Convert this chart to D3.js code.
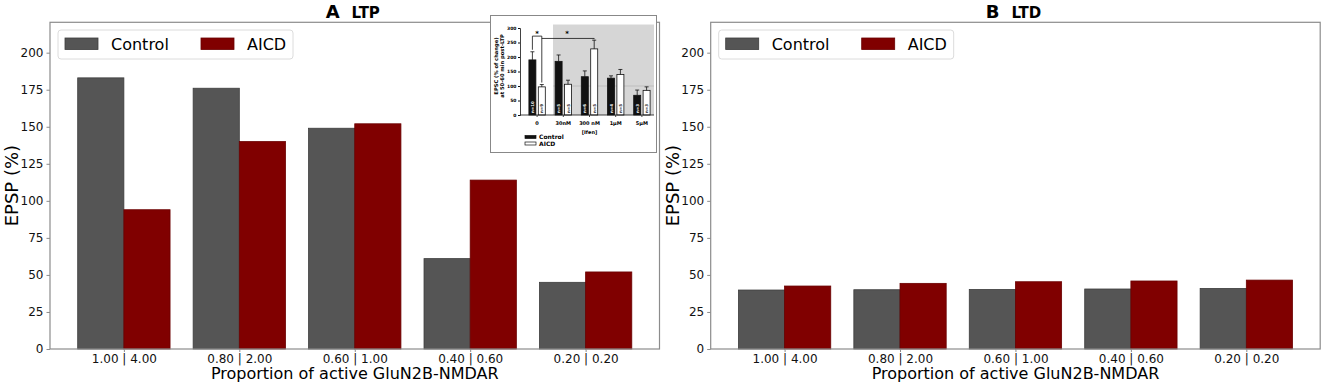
<!DOCTYPE html>
<html>
<head>
<meta charset="utf-8">
<script src="https://cdn.jsdelivr.net/npm/d3@7"></script>
<style>
  body { margin: 0; background: #fff; }
  svg { font-family: "DejaVu Sans", sans-serif; }
</style>
</head>
<body>
<div id="chart"></div>
<script>
// Data
const categories = ['1.00 | 4.00', '0.80 | 2.00', '0.60 | 1.00', '0.40 | 0.60', '0.20 | 0.20'];
const ltpControl = [183, 176, 149, 61, 45];
const ltpAicd = [94, 140, 152, 114, 52];
const ltdControl = [39.8, 40, 40.2, 40.5, 40.9];
const ltdAicd = [42.5, 44.3, 45.4, 45.9, 46.5];
const yTicks = [0, 25, 50, 75, 100, 125, 150, 175, 200];

// inset (experimental data)
const insetCats = ['0', '30nM', '300 nM', '1\u03BCM', '5\u03BCM'];
const insetControl = [190, 185, 132, 127, 68];
const insetControlErr = [28, 22, 20, 8, 18];
const insetAicd = [97, 106, 228, 140, 85];
const insetAicdErr = [8, 14, 30, 17, 12];
const insetControlN = ['n=10', 'n=5', 'n=6', 'n=4', 'n=3'];
const insetAicdN = ['n=9', 'n=5', 'n=5', 'n=5', 'n=3'];
const insetTicks = [0, 50, 100, 150, 200, 250, 300];

const W = 1325, H = 388;
const colControl = '#555555', colAicd = '#800000';
const spine = '#8c8c8c';

const svg = d3.select('#chart').append('svg')
    .attr('width', W)
    .attr('height', H);

function drawPanel(left, letter, name, control, aicd) {
    const top = 22.3, bottom = 349, width = 609.5;
    const x = d3.scaleLinear().domain([-0.64, 4.64]).range([left, left + width]);
    const y = d3.scaleLinear().domain([0, 220.5]).range([bottom, top]);
    const g = svg.append('g');

    // bars
    const bw = x(0.4) - x(0);
    g.selectAll('.bc').data(control).enter().append('rect')
        .attr('x', (d, i) => x(i - 0.4))
        .attr('y', d => y(d))
        .attr('width', bw)
        .attr('height', d => y(0) - y(d))
        .attr('fill', colControl)
        .attr('stroke', '#3d3d3d')
        .attr('stroke-width', 0.8);
    g.selectAll('.ba').data(aicd).enter().append('rect')
        .attr('x', (d, i) => x(i))
        .attr('y', d => y(d))
        .attr('width', bw)
        .attr('height', d => y(0) - y(d))
        .attr('fill', colAicd)
        .attr('stroke', '#6a0000')
        .attr('stroke-width', 0.8);

    // frame
    g.append('rect')
        .attr('x', left).attr('y', top)
        .attr('width', width).attr('height', bottom - top)
        .attr('fill', 'none')
        .attr('stroke', spine)
        .attr('stroke-width', 1.2);

    // axes
    const ya = g.append('g')
        .attr('transform', `translate(${left},0)`)
        .call(d3.axisLeft(y).tickValues(yTicks).tickSize(3.5).tickPadding(3));
    const xa = g.append('g')
        .attr('transform', `translate(0,${bottom})`)
        .call(d3.axisBottom(x).tickValues(d3.range(categories.length))
            .tickFormat(i => categories[i]).tickSize(3).tickPadding(2));
    [ya, xa].forEach(a => {
        a.select('.domain').remove();
        a.selectAll('line').attr('stroke', spine);
        a.selectAll('text').attr('font-size', 12).attr('fill', '#111')
            .attr('font-family', 'DejaVu Sans');
    });

    // labels
    g.append('text')
        .attr('transform', `translate(${left - 32},${(top + bottom) / 2}) rotate(-90)`)
        .attr('text-anchor', 'middle')
        .attr('font-size', 18)
        .text('EPSP (%)');
    g.append('text')
        .attr('x', left + width / 2)
        .attr('y', 378.5)
        .attr('text-anchor', 'middle')
        .attr('font-size', 16)
        .text('Proportion of active GluN2B-NMDAR');

    const t = g.append('text')
        .attr('x', left + width / 2 - 2)
        .attr('y', 18)
        .attr('text-anchor', 'middle')
        .attr('font-weight', 'bold');
    t.append('tspan').attr('font-size', 18).text(letter);
    t.append('tspan').attr('font-size', 15).attr('dx', 12).text(name);

    // legend
    const lg = g.append('g').attr('transform', `translate(${left + 8},30)`);
    lg.append('rect')
        .attr('width', 235).attr('height', 29).attr('rx', 3)
        .attr('fill', 'white').attr('fill-opacity', 0.85)
        .attr('stroke', '#dcdcdc');
    [['Control', colControl, 7], ['AICD', colAicd, 143]].forEach(([lab, c, dx]) => {
        lg.append('rect')
            .attr('x', dx).attr('y', 8)
            .attr('width', 33).attr('height', 11.5)
            .attr('fill', c)
            .attr('stroke', c === colControl ? '#3d3d3d' : '#6a0000')
            .attr('stroke-width', 0.8);
        lg.append('text')
            .attr('x', dx + 46).attr('y', 19.5)
            .attr('font-size', 16)
            .text(lab);
    });
}

drawPanel(50, 'A', 'LTP', ltpControl, ltpAicd);
drawPanel(710.7, 'B', 'LTD', ltdControl, ltdAicd);

// Inset figure (upper right of panel A)
function drawInset() {
    const g = svg.append('g').attr('font-weight', 'bold');
    g.append('rect')
        .attr('x', 490.5).attr('y', 15.5)
        .attr('width', 166).attr('height', 137)
        .attr('fill', 'white')
        .attr('stroke', '#888').attr('stroke-width', 1);

    const x = d3.scaleBand().domain(insetCats).range([524, 655]);
    const y = d3.scaleLinear().domain([0, 300]).range([115, 28]);
    const cx = c => x(c) + x.bandwidth() / 2;

    // shaded region for ifenprodil concentrations
    g.append('rect')
        .attr('x', 553).attr('y', y(312))
        .attr('width', 101).attr('height', y(0) - y(312))
        .attr('fill', '#d6d6d6');
    g.append('line')
        .attr('x1', 553).attr('x2', 654)
        .attr('y1', y(100)).attr('y2', y(100))
        .attr('stroke', '#b5b5b5').attr('stroke-width', 0.7);

    const bw = 7;
    const series = [
        { vals: insetControl, err: insetControlErr, n: insetControlN, off: -8.2, fill: '#111', txt: '#fff' },
        { vals: insetAicd, err: insetAicdErr, n: insetAicdN, off: 1.2, fill: '#fff', txt: '#222' }
    ];
    series.forEach(s => {
        insetCats.forEach((c, i) => {
            const bx = cx(c) + s.off;
            const v = s.vals[i], e = s.err[i];
            g.append('rect')
                .attr('x', bx).attr('y', y(v))
                .attr('width', bw).attr('height', y(0) - y(v))
                .attr('fill', s.fill)
                .attr('stroke', '#111').attr('stroke-width', 0.8);
            const mx = bx + bw / 2;
            g.append('line')
                .attr('x1', mx).attr('x2', mx)
                .attr('y1', y(v)).attr('y2', y(v + e))
                .attr('stroke', '#111').attr('stroke-width', 0.8);
            g.append('line')
                .attr('x1', mx - 2).attr('x2', mx + 2)
                .attr('y1', y(v + e)).attr('y2', y(v + e))
                .attr('stroke', '#111').attr('stroke-width', 0.8);
            g.append('text')
                .attr('transform', `translate(${mx + 1.5},${y(0) - 2}) rotate(-90)`)
                .attr('font-size', 4)
                .attr('fill', s.txt)
                .text(s.n[i]);
        });
    });

    // axes
    const ya = g.append('g').attr('transform', 'translate(520,0)')
        .call(d3.axisLeft(y).tickValues(insetTicks).tickSize(2).tickPadding(1.5));
    ya.select('.domain').attr('stroke', '#111').attr('stroke-width', 0.8);
    ya.selectAll('line').attr('stroke', '#111');
    ya.selectAll('text').attr('font-size', 4.5).attr('font-weight', 'bold')
        .attr('font-family', 'DejaVu Sans');
    g.append('line')
        .attr('x1', 520).attr('x2', 654)
        .attr('y1', y(0)).attr('y2', y(0))
        .attr('stroke', '#111').attr('stroke-width', 0.8);
    insetCats.forEach(c => {
        g.append('line')
            .attr('x1', cx(c)).attr('x2', cx(c))
            .attr('y1', y(0)).attr('y2', y(0) + 2)
            .attr('stroke', '#111').attr('stroke-width', 0.8);
        g.append('text')
            .attr('x', cx(c)).attr('y', 125)
            .attr('text-anchor', 'middle')
            .attr('font-size', 5)
            .text(c);
    });
    g.append('text')
        .attr('x', cx('300 nM')).attr('y', 134)
        .attr('text-anchor', 'middle')
        .attr('font-size', 5)
        .text('[Ifen]');

    // y label
    const yl = g.append('text')
        .attr('transform', 'translate(498,66) rotate(-90)')
        .attr('text-anchor', 'middle')
        .attr('font-size', 5.2);
    yl.append('tspan').attr('x', 0).attr('dy', 0).text('EPSC (% of change)');
    yl.append('tspan').attr('x', 0).attr('dy', 6).text('at 50-60 min post-LTP');

    // significance brackets
    const b1 = y(272), b2 = y(264);
    const c0 = cx('0') - 8.2 + 3.5, a0 = cx('0') + 1.2 + 3.5, a300 = cx('300 nM') + 1.2 + 3.5;
    g.append('path')
        .attr('d', `M${c0},${y(insetControl[0] + insetControlErr[0]) - 2}V${b1}H${a0}V${y(insetAicd[0] + insetAicdErr[0]) - 2}`)
        .attr('fill', 'none').attr('stroke', '#111').attr('stroke-width', 0.8);
    g.append('path')
        .attr('d', `M${a0},${b2}H${a300}V${y(insetAicd[2] + insetAicdErr[2]) - 1}`)
        .attr('fill', 'none').attr('stroke', '#111').attr('stroke-width', 0.8);
    g.append('text').attr('x', (c0 + a0) / 2).attr('y', y(282) + 3)
        .attr('text-anchor', 'middle').attr('font-size', 7).text('*');
    g.append('text').attr('x', (a0 + a300) / 2 - 1).attr('y', y(282) + 3)
        .attr('text-anchor', 'middle').attr('font-size', 7).text('*');

    // legend
    [['Control', '#111', 136], ['AICD', '#fff', 142.5]].forEach(([lab, f, yy]) => {
        g.append('rect')
            .attr('x', 525).attr('y', yy - 0.5)
            .attr('width', 11).attr('height', 3)
            .attr('fill', f).attr('stroke', '#111').attr('stroke-width', 0.7);
        g.append('text')
            .attr('x', 539).attr('y', yy + 3.2)
            .attr('font-size', 6)
            .text(lab);
    });
}

drawInset();
</script>
</body>
</html>
